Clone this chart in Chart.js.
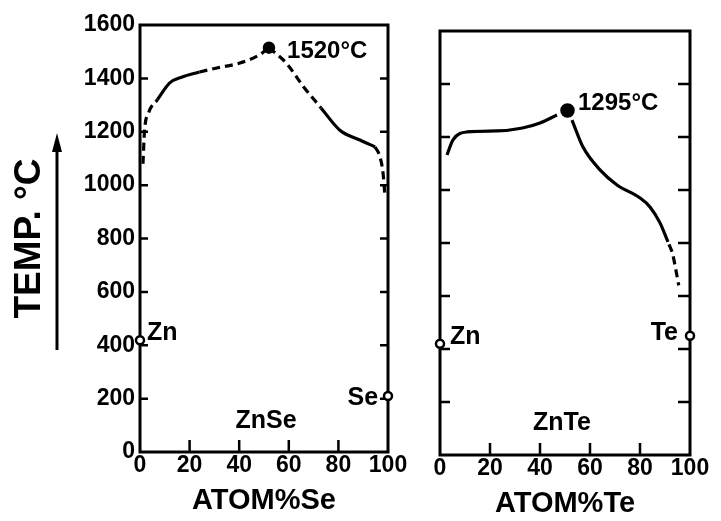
<!DOCTYPE html>
<html><head><meta charset="utf-8">
<script src="https://cdn.jsdelivr.net/npm/chart.js@4.4.1/dist/chart.umd.min.js"></script>
<style>
html,body{margin:0;padding:0;background:#fff;}
#wrap{position:relative;width:721px;height:521px;background:#fff;}
canvas{position:absolute;left:0;top:0;}
</style></head><body>
<div id="wrap"><canvas id="c1" width="721" height="521"></canvas><canvas id="c2" width="721" height="521"></canvas></div>
<script>
// ---- axis values ----
const yTickValues = [0, 200, 400, 600, 800, 1000, 1200, 1400, 1600];
const xTickValues = [0, 20, 40, 60, 80, 100];
const innerYTicks = [200, 400, 600, 800, 1000, 1200, 1400];
const innerXTicks = [20, 40, 60, 80];

// ---- Zn-Se liquidus (atom % Se, °C) ----
const znseDashA  = [[1.2, 1080], [1.8, 1200], [3.5, 1272], [7, 1320]];
const znseSolidA = [[7, 1320], [12, 1383], [17, 1405], [24, 1424]];
const znseDashB  = [[24, 1424], [31, 1439], [40, 1457], [48, 1487], [52, 1515]];
const znseDashC  = [[52, 1515], [59, 1457], [66, 1368], [73, 1289]];
const znseSolidB = [[73, 1289], [80.6, 1206], [88.7, 1169], [94.8, 1143]];
const znseDashD  = [[94.8, 1143], [96.8, 1105], [98, 1045], [98.8, 955]];
const znseMax    = [[52, 1515]];
const znseEnds   = [[0, 419], [100, 210]];

// ---- Zn-Te liquidus (atom % Te, °C) ----
const zntePartA  = [[2.8, 1132], [5.2, 1189], [10.8, 1219], [22.8, 1223], [33, 1234], [40, 1253], [46.8, 1283]];
const zntePartB  = [[52.8, 1264], [57.2, 1162], [64, 1076], [70.8, 1019], [80, 970], [84, 936], [88, 876], [91.2, 804]];
const znteDash   = [[91.6, 795], [93, 760], [95.5, 640]];
const znteMax    = [[51, 1300]];
const znteEnds   = [[0, 420], [100, 450]];

// ---- labels ----
const znseLabels = [
  {text: '1520°C', x: 59.3, y: 1502, align: 'left'},
  {text: 'Zn', x: 2.8, y: 446, align: 'left'},
  {text: 'Se', x: 96, y: 202, align: 'right'},
  {text: 'ZnSe', x: 50.8, y: 116, align: 'center'}
];
const znteLabels = [
  {text: '1295°C', x: 55.2, y: 1328, align: 'left'},
  {text: 'Zn', x: 4, y: 445, align: 'left'},
  {text: 'Te', x: 95.2, y: 460, align: 'right'},
  {text: 'ZnTe', x: 48.8, y: 121, align: 'center'}
];

const FONT = "'Liberation Sans', Arial, sans-serif";
const P = arr => arr.map(([x, y]) => ({x, y}));

function seg(data, dashed) {
  return {data: P(data), showLine: true, borderColor: '#000', borderWidth: 3.2,
    borderDash: dashed ? [8, 5] : [], pointRadius: 0, pointHoverRadius: 0,
    cubicInterpolationMode: 'monotone', fill: false, clip: false, borderCapStyle: 'butt'};
}
function marker(data, filled, r) {
  return {data: P(data), showLine: false, pointRadius: r, pointHoverRadius: r,
    pointBackgroundColor: filled ? '#000' : '#fff', pointBorderColor: '#000',
    pointBorderWidth: 2.5, clip: false};
}

const framePlugin = {
  id: 'frame',
  beforeDatasetsDraw(chart, args, opts) {
    const {ctx, chartArea: a, scales: {x, y}} = chart;
    ctx.save();
    ctx.strokeStyle = '#000';
    ctx.lineWidth = 3;
    ctx.strokeRect(a.left, a.top, a.right - a.left, a.bottom - a.top);
    ctx.lineWidth = 2.5;
    ctx.beginPath();
    innerYTicks.forEach(v => {
      const py = y.getPixelForValue(v);
      ctx.moveTo(a.left, py); ctx.lineTo(a.left + opts.lenL, py);
      ctx.moveTo(a.right, py); ctx.lineTo(a.right - opts.lenR, py);
    });
    innerXTicks.forEach(v => {
      const px = x.getPixelForValue(v);
      ctx.moveTo(px, a.bottom); ctx.lineTo(px, a.bottom - 12);
    });
    ctx.stroke();
    if (opts.arrow) {
      ctx.lineWidth = 3;
      ctx.beginPath();
      ctx.moveTo(57, 350); ctx.lineTo(57, 148);
      ctx.stroke();
      ctx.beginPath();
      ctx.moveTo(57, 133); ctx.lineTo(52, 152); ctx.lineTo(62, 152); ctx.closePath();
      ctx.fillStyle = '#000';
      ctx.fill();
    }
    ctx.restore();
  },
  afterDatasetsDraw(chart, args, opts) {
    const {ctx, scales: {x, y}} = chart;
    ctx.save();
    ctx.fillStyle = '#000';
    ctx.textBaseline = 'middle';
    opts.labels.forEach(l => {
      ctx.font = 'bold ' + (l.text.length > 4 ? '24px ' : '25px ') + FONT;
      ctx.textAlign = l.align;
      ctx.fillText(l.text, x.getPixelForValue(l.x), y.getPixelForValue(l.y));
    });
    ctx.restore();
  }
};

function makeChart(id, datasets, xTitle, showY, yWidth, padding, frameOpts) {
  const tickFont = {family: FONT, size: 23, weight: 'bold'};
  return new Chart(document.getElementById(id), {
    type: 'scatter',
    data: {datasets},
    options: {
      responsive: false, animation: false, devicePixelRatio: 1,
      layout: {padding},
      plugins: {legend: {display: false}, tooltip: {enabled: false}, frame: frameOpts},
      events: [],
      scales: {
        x: {
          type: 'linear', min: 0, max: 100,
          afterBuildTicks: s => { s.ticks = xTickValues.map(v => ({value: v})); },
          ticks: {font: tickFont, color: '#000', padding: 0, maxRotation: 0, autoSkip: false,
            callback: v => String(v)},
          grid: {display: false, drawTicks: false},
          border: {display: false},
          title: {display: true, text: xTitle, color: '#000',
            font: {family: FONT, size: 29, weight: 'bold', lineHeight: 1.2}, padding: 0},
          afterFit: s => { s.height = 66; }
        },
        y: {
          type: 'linear', min: 0, max: 1600, display: showY,
          afterBuildTicks: s => { s.ticks = yTickValues.map(v => ({value: v})); },
          ticks: {font: tickFont, color: '#000', padding: 5, autoSkip: false,
            callback: v => String(v)},
          grid: {display: false, drawTicks: false},
          border: {display: false},
          title: {display: true, text: 'TEMP. °C', color: '#000',
            font: {family: FONT, size: 37, weight: 'bold', lineHeight: 1.2}, padding: {top: 8, bottom: 0}},
          afterFit: s => { s.width = yWidth; }
        }
      }
    },
    plugins: [framePlugin]
  });
}

makeChart('c1', [
  seg(znseDashA, true), seg(znseSolidA, false), seg(znseDashB, true),
  seg(znseDashC, true), seg(znseSolidB, false), seg(znseDashD, true),
  marker(znseMax, true, 5), marker(znseEnds, false, 4)
], 'ATOM%Se', true, 140, {left: 0, right: 333, top: 25, bottom: 3},
  {lenL: 8, lenR: 8, arrow: true, labels: znseLabels});

makeChart('c2', [
  seg(zntePartA, false), seg(zntePartB, false), seg(znteDash, true),
  marker(znteMax, true, 6), marker(znteEnds, false, 4)
], 'ATOM%Te', false, 0, {left: 440, right: 31, top: 31, bottom: 0},
  {lenL: 10, lenR: 12, arrow: false, labels: znteLabels});
</script>
</body></html>
